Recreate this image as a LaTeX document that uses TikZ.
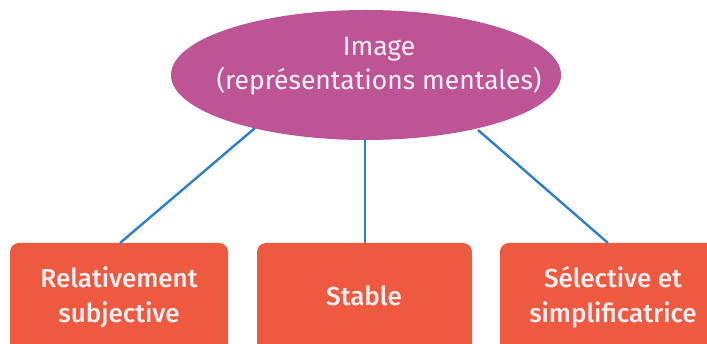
\documentclass[tikz,border=0pt]{standalone}
\usepackage{fontspec}
\setmainfont{Fira Sans}
\newfontfamily\medfont{Fira Sans Medium}
\usetikzlibrary{shapes.geometric}
\definecolor{ellcol}{HTML}{BD5496}
\definecolor{boxcol}{HTML}{EE5A40}
\definecolor{linecol}{HTML}{2F7FC4}
\definecolor{txtcol}{HTML}{FBEFF3}
\begin{document}
\begin{tikzpicture}[x=1pt,y=-1pt,
  catbox/.style={fill=boxcol, rounded corners=9pt, draw=none},
  conn/.style={draw=linecol, line width=2.4pt},
  lbl/.style={text=txtcol, align=center, inner sep=0pt, font=\fontsize{26}{35}\selectfont\medfont},
  ellbl/.style={text=txtcol, align=center, inner sep=0pt, font=\fontsize{26.5}{34}\selectfont}]
\clip (0,0) rectangle (707,344);
\fill[white] (0,0) rectangle (707,344);
\node[ellipse, fill=ellcol, minimum width=390pt, minimum height=130pt, inner sep=0pt] (top) at (366,75) {};
\node[ellbl] (toptext) at (379,66) {Image\\(représentations mentales)};
\coordinate (t1) at (255,128);
\coordinate (t2) at (365,139);
\coordinate (t3) at (478,130);
\fill[catbox] (10,243) rectangle (228,370);
\fill[catbox] (257,243) rectangle (472,370);
\fill[catbox] (500,243) rectangle (720,370);
\node[lbl] (b1) at (119,297) {Relativement\\subjective};
\node[lbl] (b2) at (364,296) {Stable};
\node[lbl] (b3) at (613,297) {Sélective et\\simplificatrice};
\coordinate (c1) at (120,243);
\coordinate (c2) at (365,243);
\coordinate (c3) at (608,243);
\draw[conn] (t1) -- (c1);
\draw[conn] (t2) -- (c2);
\draw[conn] (t3) -- (c3);
\end{tikzpicture}
\end{document}
